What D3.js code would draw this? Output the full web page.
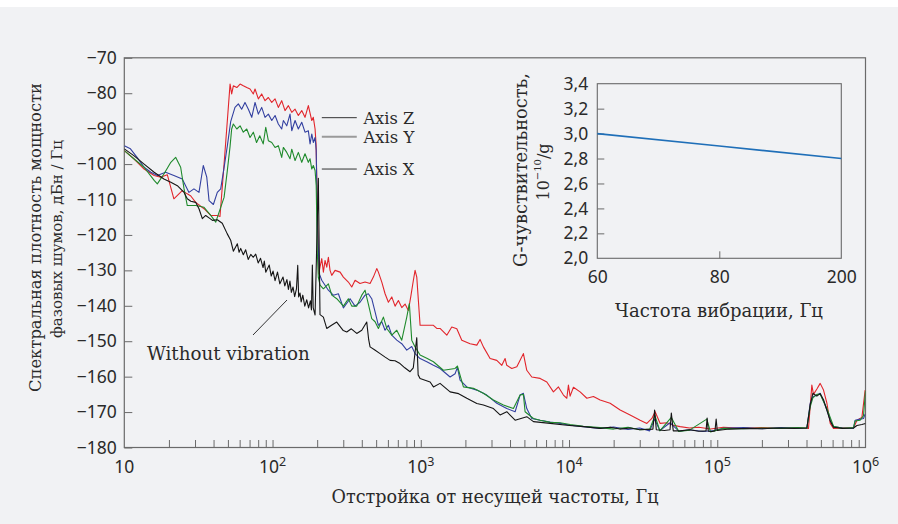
<!DOCTYPE html>
<html><head><meta charset="utf-8">
<script src="https://cdn.jsdelivr.net/npm/d3@7"></script>
<style>body{margin:0;background:#fff}</style>
</head><body><svg id="c" width="898" height="524"></svg>
<script>
// ---- Main chart data: [frequency offset, Hz ; phase-noise PSD, dBc/Hz] ----
const axisZ = [[10,-96.2],[11.6,-98.5],[13.6,-101.4],[15.9,-103.2],[17.6,-103.7],[19.5,-103],[21.6,-109.8],[24.6,-107.5],[26.6,-108.4],[28.1,-109],[30.3,-110.8],[34.5,-112.6],[38.3,-114.5],[42.4,-114.5],[44.2,-114.8],[47.1,-100],[49.5,-88],[51.7,-77.4],[53,-80.2],[54.4,-77.9],[57.4,-78.4],[60.4,-77.4],[63.5,-77.9],[67,-78.4],[70.5,-78.8],[74.2,-80.2],[76.2,-78.8],[80.2,-81.6],[84.5,-80.2],[89,-82.1],[93.7,-81.2],[98.8,-82.6],[104,-81.6],[109.4,-84],[115.3,-82.1],[121.4,-84.9],[127.9,-83.5],[134.8,-85.4],[141.9,-84.5],[149.3,-86.3],[157.4,-84.9],[165.6,-86.8],[174.4,-83.5],[183.9,-87.7],[188.4,-86.8],[193.6,-90.1],[196.6,-94.3],[200.5,-111.2],[205,-131],[209.2,-129],[214.8,-126.7],[220.3,-130.5],[226.1,-127.2],[232.2,-129.1],[238,-126.3],[244.3,-130],[250.9,-131.4],[264.1,-130],[285.5,-130.5],[300.5,-131.9],[324.7,-133.3],[342.3,-134.7],[360.4,-132.8],[389.1,-133.7],[420.7,-133.3],[454.9,-133.7],[478.7,-131.9],[504.7,-129.5],[517.6,-130.5],[545.8,-133.3],[574.4,-136.6],[604.7,-139],[637.4,-137.5],[670.8,-140.1],[706.3,-138.5],[744.1,-140.5],[783.4,-139.5],[824.8,-141.3],[855.5,-137.5],[891.3,-132.8],[915.2,-130],[939.7,-131.9],[963.4,-138.5],[989.2,-145.5],[1098,-145.5],[1217,-145.5],[1282,-146.4],[1349,-146.4],[1498,-148.3],[1618,-146],[1750,-146.5],[1891,-149.7],[2151,-150.7],[2388,-151.1],[2512,-149.5],[2645,-151.6],[2935,-154.9],[3257,-155.4],[3521,-156.8],[3706,-154.9],[3803,-156.8],[4110,-157.7],[4445,-157.2],[4677,-155.4],[4923,-153.5],[5188,-158.2],[5610,-160.1],[6385,-160.5],[7083,-161.5],[7848,-164.3],[8484,-162.9],[9167,-165.2],[9665,-166.1],[9908,-162.4],[10170,-165.5],[10710,-163],[11880,-164.3],[13190,-166.1],[14610,-165.6],[16220,-166.6],[18940,-167.5],[22130,-169.4],[25830,-170.8],[30180,-172.3],[33500,-173.2],[36210,-171.8],[38100,-169.9],[41190,-173.2],[45710,-173],[50640,-173.7],[56170,-174.1],[65000,-174.5],[75000,-174.3],[90000,-174.8],[110000,-174.3],[150000,-174.6],[200000,-174.4],[270000,-174.6],[350000,-174.5],[412500,-174.6],[434500,-162.4],[445700,-165],[470000,-163.5],[494700,-161.9],[520900,-163.8],[549000,-167.5],[578100,-173.2],[608200,-174.6],[700000,-174.5],[829900,-174.5],[876200,-172.3],[945500,-171.5],[995000,-163.8]];

const axisY = [[10,-94.8],[11,-95.7],[12.2,-98.1],[13.6,-100.9],[15.1,-102.3],[16.7,-103.2],[19,-102.3],[21.6,-103.2],[24.6,-104.2],[27.3,-108],[29.5,-107],[31.9,-108],[34.1,-100.4],[36,-103.7],[37.3,-110.3],[39.9,-111.4],[42.4,-108],[44.7,-107],[47.1,-101],[49.5,-95],[52.2,-88],[55.8,-84],[58.8,-83],[61.9,-84.5],[65.2,-82.6],[68.7,-84.5],[72.4,-86.8],[76.2,-82.6],[80.2,-85.9],[84.5,-84],[89,-86.8],[93.7,-85.9],[98.8,-87.7],[104,-86.3],[109.4,-88.7],[115.3,-90.1],[118.3,-87.7],[124.7,-89.2],[131.2,-85.9],[134.8,-90.6],[141.9,-87.7],[149.3,-90.1],[157.4,-88.2],[165.6,-91],[174.4,-90.6],[179.1,-94.3],[183.9,-91.5],[188.4,-93.9],[193.6,-92.5],[197,-96],[201,-118],[206.9,-131],[214.8,-132.8],[226.1,-134.2],[238,-135.6],[257.2,-137],[278,-136.6],[300.5,-140.6],[333.4,-138],[360.4,-140.1],[389.1,-139],[420.7,-137],[443,-136.6],[466.9,-138],[491.7,-141.7],[517.6,-145.5],[545.8,-144.5],[574.4,-146.9],[604.7,-145.5],[637.4,-148.3],[688.7,-149.7],[744.1,-150.7],[804.4,-152.5],[869,-151.5],[915.2,-153.5],[989.2,-154.9],[1098,-155.8],[1217,-156.8],[1349,-157.7],[1577,-160.1],[1704,-159.2],[1766,-157.4],[1841,-161],[2044,-162.9],[2388,-163.8],[2787,-165.2],[3257,-167.5],[3803,-169],[4329,-169.9],[4677,-165.2],[4923,-164.7],[5188,-169],[5610,-171.8],[6385,-172.3],[7458,-172.8],[8710,-173.2],[10170,-173.7],[12510,-174.1],[16220,-174.6],[20000,-174.2],[25000,-174.9],[30000,-174.5],[35000,-175.3],[37800,-172],[41000,-175.2],[48000,-173],[55000,-175.4],[65000,-175],[80000,-175.5],[95000,-175.2],[110000,-174.6],[150000,-174.4],[200000,-174.7],[270000,-174.4],[350000,-174.6],[402300,-174.5],[423600,-167.5],[441600,-165.7],[469900,-165.2],[494700,-164.7],[520900,-166.9],[549000,-169.4],[578100,-172.3],[608200,-174.1],[700000,-174.5],[829900,-174.6],[851400,-172.3],[920000,-172],[969400,-171.8],[995000,-170.5]];

const axisX = [[10,-96.2],[11.6,-98.5],[13.6,-100.9],[15.9,-104.6],[16.7,-105.6],[18.5,-102.8],[20.6,-99.5],[22.2,-98.1],[24,-100.9],[25.3,-107],[26.6,-111.7],[30.3,-111.7],[34.5,-112.2],[38.3,-114.5],[41.4,-116.4],[44.7,-112.2],[47.1,-109.4],[49.5,-102],[51.7,-95],[53,-90.1],[54.4,-88.7],[57.4,-90.1],[60.4,-89.2],[63.5,-91],[67,-90.1],[70.5,-92.5],[74.2,-91],[78,-93.9],[82,-92],[86.5,-94.3],[90,-89.6],[93.7,-93.4],[98.8,-93.9],[104,-95.3],[109.4,-94.8],[115.3,-98.1],[118.3,-95.3],[124.7,-96.7],[131.2,-98.5],[134.8,-95.8],[141.9,-99],[149.3,-96.7],[157.4,-99.5],[165.6,-97.1],[174.4,-99.5],[179.1,-98.5],[183.9,-101.4],[188.4,-100.4],[193.6,-101.8],[197,-106],[200.5,-125],[203.7,-132],[209.2,-134.2],[220.3,-135.2],[238,-133.8],[250.9,-137],[271.2,-138],[300.5,-140.1],[324.7,-138],[342.3,-140.1],[369.8,-140.1],[399.9,-137],[420.7,-135.6],[443,-139.5],[466.9,-143.6],[491.7,-144.5],[517.6,-146.4],[559.5,-143.2],[589.9,-146.4],[637.4,-148.3],[688.7,-146.9],[744.1,-149.7],[804.4,-143.2],[837.5,-139.4],[869,-149.7],[915.2,-151.6],[989.2,-153.9],[1098,-154.8],[1217,-155.8],[1421,-158.2],[1704,-157.7],[1766,-157],[1939,-162.9],[2265,-163.3],[2645,-164.7],[3090,-166.6],[3609,-168],[4216,-169],[4677,-165.2],[4923,-165],[5054,-169.9],[5754,-171.8],[6385,-172.3],[7458,-172.9],[8710,-173],[10170,-173.5],[12510,-174],[16220,-174.4],[20000,-174.8],[25000,-174.3],[30000,-175],[35000,-174.8],[38000,-171],[41000,-175.3],[49000,-171.5],[55000,-175.5],[65000,-175.1],[85000,-172],[90000,-175.6],[110000,-174.6],[150000,-174.7],[200000,-174.5],[270000,-174.6],[350000,-174.4],[402300,-174.5],[423600,-168.5],[441600,-166],[469900,-165],[494700,-165],[520900,-167],[549000,-169],[578100,-171.5],[608200,-174],[700000,-174.6],[829900,-174.4],[851400,-172.5],[920000,-172.3],[969400,-171],[1000000,-164]];

const noVibration = [[10,-95.7],[11.6,-97.6],[13.6,-100],[15.9,-102.3],[18.5,-104.2],[20.6,-105.1],[22.8,-106.1],[25.3,-108],[26.6,-109.8],[28.1,-110.5],[30.3,-110.8],[31.9,-112.6],[33.6,-115.4],[35.4,-114.5],[37.3,-115.2],[39.3,-115.9],[42.4,-115.7],[45.8,-116.7],[49.5,-119.7],[52.2,-121.5],[54.4,-124.6],[57.9,-122.5],[59.5,-124.9],[61,-123.8],[63.5,-125.6],[65.9,-124.2],[68.5,-126.9],[71.3,-125.5],[74.2,-126.3],[77,-125.4],[80,-127.9],[83,-126.6],[86.3,-129.2],[88,-127.4],[90,-130.5],[95,-128.5],[98,-131.6],[100.8,-130.2],[104,-132.9],[108,-130.5],[112,-133.8],[117.7,-131.9],[121,-134.4],[125,-132.6],[128,-135.4],[131,-133],[134,-136.2],[137.5,-134.7],[141,-137.4],[145,-135.2],[147.9,-128.6],[150,-137.5],[153.3,-136.4],[156,-138.9],[160,-137],[165,-140.1],[170.2,-138.3],[175,-140.6],[180,-138.6],[183,-141.2],[185.6,-128.5],[188,-140.5],[193.6,-142.6],[203.7,-104],[209,-142.5],[220.3,-143.2],[232,-146.4],[250,-145.5],[271,-144.6],[300,-147],[316.7,-147.4],[340,-146.5],[369.8,-147.8],[399.9,-146.9],[432,-144.6],[445,-149.5],[454.9,-151.6],[490,-152.5],[531.4,-153.5],[575,-154.5],[620.9,-155.4],[670,-155.5],[724.8,-156.3],[780,-157.5],[846.5,-158.6],[890,-157.5],[939.7,-149],[960,-159.5],[989,-160.5],[1156,-161.5],[1217,-162.9],[1349,-161.9],[1577,-164.3],[1800,-164.8],[2044,-166.1],[2388,-167.6],[2645,-168],[3090,-169],[3428,-170.8],[3803,-169.9],[4329,-172.3],[5188,-171.3],[5754,-172.7],[7458,-173.2],[9665,-173.7],[12510,-174.1],[16220,-174.6],[19000,-174.3],[22000,-174.8],[26000,-174.5],[30000,-175],[36800,-174.8],[37800,-169.4],[38800,-175],[44000,-175.2],[48000,-175],[49000,-170.3],[50500,-175.3],[56000,-175.3],[65000,-175],[75000,-175.4],[84000,-175.3],[85440,-171.7],[87000,-175.4],[92000,-175.5],[96500,-175.3],[98300,-172],[100000,-175.2],[120000,-174.8],[160000,-174.6],[200000,-174.7],[260000,-174.5],[330000,-174.6],[402300,-174.5],[423600,-168],[441600,-164.7],[469900,-165.5],[494700,-164.8],[520900,-166.5],[549000,-169.5],[578100,-172.5],[608200,-174.3],[700000,-174.6],[829900,-174.5],[876200,-173.8],[945500,-173.5],[1000000,-173.2]];

const yTicks = [-70,-80,-90,-100,-110,-120,-130,-140,-150,-160,-170,-180];
const decadeExp = [1,2,3,4,5,6];

// ---- Inset data ----
const insetFreq = ["60","80","200"];
const insetSens = [3.0,2.9,2.8];
const insetYTicks = [2.0,2.2,2.4,2.6,2.8,3.0,3.2,3.4];

const svg = d3.select("#c");
const serif = "'DejaVu Serif', serif";
const sans = "'Noto Sans', sans-serif";
const ink = "#2a2a2a";
const frame = "#6a6a6a";

svg.append("rect").attr("x",0).attr("y",7).attr("width",898).attr("height",517).attr("fill","#f1f2f4");

const x = d3.scaleLog().domain([10,1e6]).range([124.3,865.5]);
const y = d3.scaleLinear().domain([-180,-70]).range([447.5,57.8]);

function fit(sel, target){
  const n = sel.node(); const fs = parseFloat(sel.attr("font-size"));
  const w = n.getComputedTextLength(); if (w>0) sel.attr("font-size", (fs*target/w).toFixed(2));
  return sel;
}

svg.append("clipPath").attr("id","pc").append("rect")
  .attr("x",x.range()[0]).attr("y",y.range()[1]).attr("width",x.range()[1]-x.range()[0]).attr("height",y.range()[0]-y.range()[1]);

// y axis
const yAx = svg.append("g").attr("transform",`translate(${x.range()[0]},0)`)
  .call(d3.axisLeft(y).tickValues(yTicks).tickSize(-8).tickPadding(7.6).tickFormat(d=>String(d).replace("-","\u2212")));
yAx.select(".domain").remove();
yAx.selectAll("line").attr("stroke",frame);
yAx.selectAll("text").attr("font-family",sans).attr("font-size",17.5).attr("fill",ink);

// x axis ticks
const xTickVals = [];
decadeExp.slice(0,5).forEach(e=>{ for(let m=1;m<=9;m++){ xTickVals.push(m*Math.pow(10,e)); } });
const xAx = svg.append("g").attr("transform",`translate(0,${y.range()[0]})`)
  .call(d3.axisBottom(x).tickValues(xTickVals.filter(v=>v>10)).tickSize(-7.5).tickFormat(""));
xAx.select(".domain").remove();
xAx.selectAll("line").attr("stroke",frame);

decadeExp.forEach(e=>{
  const t = svg.append("text").attr("x",x(Math.pow(10,e))).attr("y",472.5).attr("text-anchor","middle")
    .attr("font-family",sans).attr("font-size",17.5).attr("fill",ink);
  t.append("tspan").text("10");
  if (e>1) t.append("tspan").attr("dy",-7).attr("font-size",12.5).text(String(e));
});

// frame
svg.append("rect").attr("x",x.range()[0]).attr("y",y.range()[1])
  .attr("width",x.range()[1]-x.range()[0]).attr("height",y.range()[0]-y.range()[1])
  .attr("fill","none").attr("stroke",frame).attr("stroke-width",1.2);

// series
const line = d3.line().x(d=>x(d[0])).y(d=>y(d[1]));
const gL = svg.append("g").attr("clip-path","url(#pc)");
[[axisZ,"#e2252b"],[axisY,"#3340a0"],[axisX,"#1f8a2c"],[noVibration,"#151515"]].forEach(([data,c])=>{
  gL.append("path").attr("d",line(data)).attr("fill","none").attr("stroke",c).attr("stroke-width",1.1).attr("stroke-linejoin","round");
});

// axis titles
fit(svg.append("text").attr("x",495).attr("y",503).attr("text-anchor","middle").attr("font-family",serif).attr("font-size",17).attr("fill",ink)
  .text("Отстройка от несущей частоты, Гц"),327);
fit(svg.append("text").attr("transform","translate(35,237.5) rotate(-90)").attr("text-anchor","middle").attr("dominant-baseline","central")
  .attr("font-family",serif).attr("font-size",17).attr("fill",ink).text("Спектральная плотность мощности"),309);
fit(svg.append("text").attr("transform","translate(57,239) rotate(-90)").attr("text-anchor","middle").attr("dominant-baseline","central")
  .attr("font-family",serif).attr("font-size",17).attr("fill",ink).text("фазовых шумов, дБн / Гц"),198);

// legend annotations
const legendItems = [["Axis Z",-86.9,"#333",1],["Axis Y",-92.3,"#9a9a9a",2],["Axis X",-101.4,"#333",1]];
legendItems.forEach(([lab,v,c,w])=>{
  svg.append("line").attr("x1",x(215)).attr("x2",x(370)).attr("y1",y(v)).attr("y2",y(v)).attr("stroke",c).attr("stroke-width",w);
  fit(svg.append("text").attr("x",x(410)).attr("y",y(v)).attr("dy","0.36em").attr("font-family",serif).attr("font-size",16).attr("fill",ink).text(lab),51);
});
svg.append("line").attr("x1",253).attr("y1",335).attr("x2",287).attr("y2",300).attr("stroke","#333").attr("stroke-width",1);
fit(svg.append("text").attr("x",147).attr("y",360).attr("font-family",serif).attr("font-size",16).attr("fill",ink).text("Without vibration"),163);

// ---- inset ----
const ix = d3.scalePoint().domain(insetFreq).range([597.3,841.3]);
const iy = d3.scaleLinear().domain([2.0,3.4]).range([258.3,83.7]);
const iyAx = svg.append("g").attr("transform",`translate(${ix.range()[0]},0)`)
  .call(d3.axisLeft(iy).tickValues(insetYTicks).tickSize(-7).tickPadding(9).tickFormat(d=>d3.format(".1f")(d).replace(".",",")));
iyAx.select(".domain").remove();
iyAx.selectAll("line").attr("stroke",frame).attr("opacity",(d)=> (d>2.0 && d<3.4)?1:0);
iyAx.selectAll("text").attr("font-family",sans).attr("font-size",17.5).attr("fill",ink);
const ixAx = svg.append("g").attr("transform",`translate(0,${iy.range()[0]})`)
  .call(d3.axisBottom(ix).tickSize(-7).tickPadding(9));
ixAx.select(".domain").remove();
ixAx.selectAll("line").attr("stroke",frame).attr("opacity",(d,i)=> (i===1)?1:0);
ixAx.selectAll("text").attr("font-family",sans).attr("font-size",17.5).attr("fill",ink).attr("dy","0.9em");
svg.append("rect").attr("x",597.3).attr("y",83.7).attr("width",244).attr("height",174.6)
  .attr("fill","none").attr("stroke",frame).attr("stroke-width",1.1);
svg.append("path").attr("d",d3.line().x((d,i)=>ix(insetFreq[i])).y(d=>iy(d))(insetSens))
  .attr("fill","none").attr("stroke","#1f6fb8").attr("stroke-width",1.6);
fit(svg.append("text").attr("x",719).attr("y",316.5).attr("text-anchor","middle").attr("font-family",serif).attr("font-size",17).attr("fill",ink)
  .text("Частота вибрации, Гц"),208);
fit(svg.append("text").attr("transform","translate(520.7,170) rotate(-90)").attr("text-anchor","middle").attr("dominant-baseline","central")
  .attr("font-family",serif).attr("font-size",17).attr("fill",ink).text("G-чувствительность,"),194);
const t2 = svg.append("text").attr("transform","translate(543,172) rotate(-90)").attr("text-anchor","middle").attr("dominant-baseline","central")
  .attr("font-family",serif).attr("font-size",16).attr("fill",ink);
t2.append("tspan").text("10");
t2.append("tspan").attr("dy",-6).attr("font-size",10).text("\u221210");
t2.append("tspan").attr("dy",6).text("/g");
</script></body></html>
